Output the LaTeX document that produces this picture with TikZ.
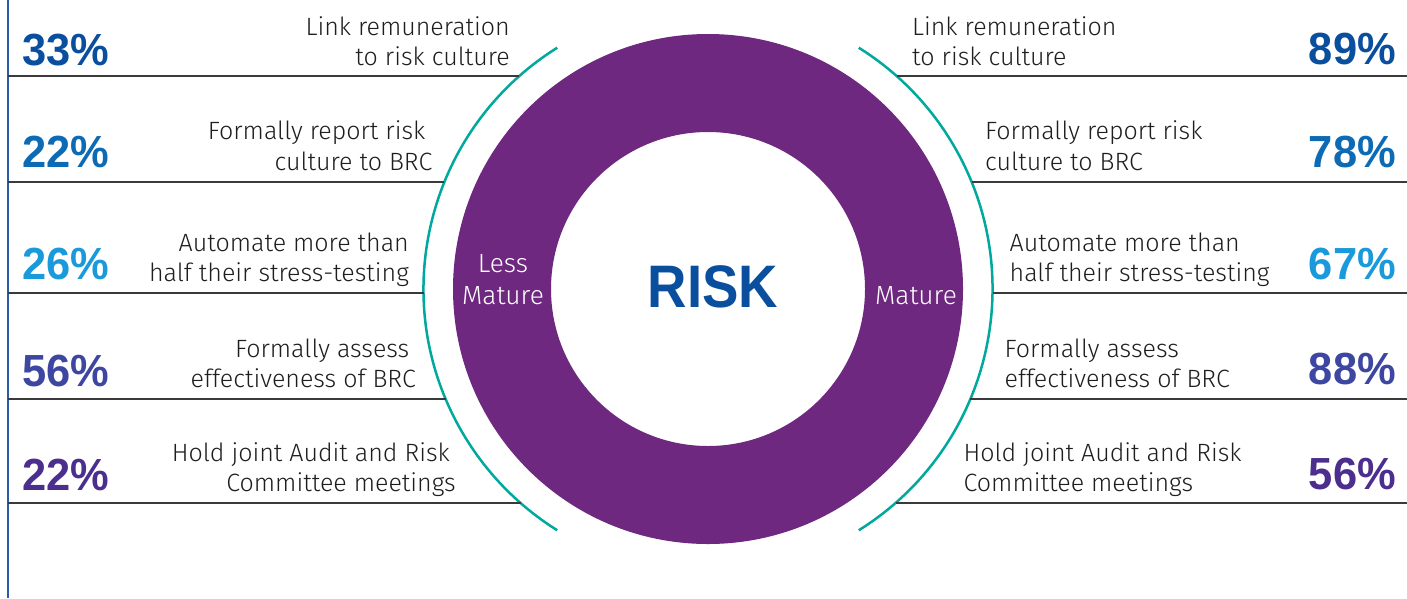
\documentclass[tikz,border=0pt]{standalone}
\usepackage{fontspec}
\setmainfont{Liberation Sans}
\IfFontExistsTF{Fira Sans Light}{%
  \newfontfamily\lblfont{Fira Sans Light}%
  \def\lblsize{\fontsize{25}{29}\selectfont}%
  \def\ringsize{\fontsize{26.3}{30}\selectfont}%
}{%
  \newfontfamily\lblfont[FakeStretch=1.05]{Liberation Sans}%
  \def\lblsize{\fontsize{24}{28}\selectfont}%
  \def\ringsize{\fontsize{24}{28}\selectfont}%
}
\newfontfamily\pctfont[FakeStretch=0.965]{Liberation Sans}
\newfontfamily\riskfont[FakeStretch=0.91]{Liberation Sans}
\definecolor{ringpurple}{HTML}{6F2880}
\definecolor{arcteal}{HTML}{00A99D}
\definecolor{rulegray}{HTML}{3A3A3A}
\definecolor{edgeblue}{HTML}{2A5CA8}
\definecolor{labelgray}{HTML}{1E1E1E}
\definecolor{pctA}{HTML}{0A4F9E}
\definecolor{pctB}{HTML}{0D6AB5}
\definecolor{pctC}{HTML}{1A9ADB}
\definecolor{pctD}{HTML}{3D46A0}
\definecolor{pctE}{HTML}{4B2E8D}
\begin{document}
\begin{tikzpicture}[x=1pt,y=-1pt,
  lbl/.style={inner sep=0pt, text=labelgray, font=\lblfont\lblsize},
  lblL/.style={lbl, anchor=base east},
  lblR/.style={lbl, anchor=base west},
  pct/.style={inner sep=0pt, font=\pctfont\bfseries\fontsize{45}{50}\selectfont},
  pctL/.style={pct, anchor=base west},
  pctR/.style={pct, anchor=base east},
  ringlbl/.style={inner sep=0pt, anchor=base, text=white, font=\lblfont\ringsize},
  rule/.style={draw=rulegray, line width=1.5pt},
  tealarc/.style={draw=arcteal, line width=2.5pt}]
\useasboundingbox (0,0) rectangle (1407,598);
\fill[white] (0,0) rectangle (1407,598);

% left edge
\coordinate (E1) at (8,0);
\coordinate (E2) at (8,598);
\draw[edgeblue, line width=1.5pt] (E1) -- (E2);

% ring
\coordinate (C) at (708,289);
\fill[ringpurple, even odd rule] (C) circle[radius=255pt] (C) circle[radius=157pt];

% teal arcs
\draw[tealarc] (C) ++(122:284.5pt) arc[start angle=122, end angle=238, radius=284.5pt];
\draw[tealarc] (C) ++(-58:284.5pt) arc[start angle=-58, end angle=58, radius=284.5pt];

% left rules
\coordinate (la1) at (8,76);   \coordinate (lb1) at (519.4,76);
\coordinate (la2) at (8,182);  \coordinate (lb2) at (444.4,182);
\coordinate (la3) at (8,293);  \coordinate (lb3) at (423.5,293);
\coordinate (la4) at (8,399);  \coordinate (lb4) at (445.6,399);
\coordinate (la5) at (8,503);  \coordinate (lb5) at (520.5,503);
\foreach \i in {1,...,5} \draw[rule] (la\i) -- (lb\i);

% right rules
\coordinate (ra1) at (896.6,76);  \coordinate (rb1) at (1407,76);
\coordinate (ra2) at (971.6,182); \coordinate (rb2) at (1407,182);
\coordinate (ra3) at (992.5,293); \coordinate (rb3) at (1407,293);
\coordinate (ra4) at (970.4,399); \coordinate (rb4) at (1407,399);
\coordinate (ra5) at (895.5,503); \coordinate (rb5) at (1407,503);
\foreach \i in {1,...,5} \draw[rule] (ra\i) -- (rb\i);

% left labels
\node[lblL] (L1a) at (510,35) {Link remuneration};
\node[lblL] (L1b) at (510,65) {to risk culture};
\node[lblL] (L2a) at (425.5,139) {Formally report risk};
\node[lblL] (L2b) at (432.5,170) {culture to BRC};
\node[lblL] (L3a) at (409,251) {Automate more than};
\node[lblL] (L3b) at (409,281) {half their stress-testing};
\node[lblL] (L4a) at (409.5,357) {Formally assess};
\node[lblL] (L4b) at (416,387) {effectiveness of BRC};
\node[lblL] (L5a) at (450,461) {Hold joint Audit and Risk};
\node[lblL] (L5b) at (456,491) {Committee meetings};

% right labels
\node[lblR] (R1a) at (912,35) {Link remuneration};
\node[lblR] (R1b) at (912,65) {to risk culture};
\node[lblR] (R2a) at (985,139) {Formally report risk};
\node[lblR] (R2b) at (985,170) {culture to BRC};
\node[lblR] (R3a) at (1009.5,251) {Automate more than};
\node[lblR] (R3b) at (1009.5,281) {half their stress-testing};
\node[lblR] (R4a) at (1004.5,357) {Formally assess};
\node[lblR] (R4b) at (1004.5,387) {effectiveness of BRC};
\node[lblR] (R5a) at (963.5,461) {Hold joint Audit and Risk};
\node[lblR] (R5b) at (963.5,491) {Committee meetings};

% left percentages
\node[pctL, text=pctA] (P1) at (22,65) {33\%};
\node[pctL, text=pctB] (P2) at (22,167) {22\%};
\node[pctL, text=pctC] (P3) at (22,279) {26\%};
\node[pctL, text=pctD] (P4) at (22,386) {56\%};
\node[pctL, text=pctE] (P5) at (22,490) {22\%};

% right percentages
\node[pctR, text=pctA] (Q1) at (1396,64) {89\%};
\node[pctR, text=pctB] (Q2) at (1396,167) {78\%};
\node[pctR, text=pctC] (Q3) at (1396,279) {67\%};
\node[pctR, text=pctD] (Q4) at (1396,384) {88\%};
\node[pctR, text=pctE] (Q5) at (1396,489) {56\%};

% ring labels
\node[ringlbl] (less) at (503,272.5) {Less};
\node[ringlbl] (lmature) at (503,304) {Mature};
\node[ringlbl] (rmature) at (916,304) {Mature};

% centre
\node[inner sep=0pt, anchor=base, text=pctA, font=\riskfont\bfseries\fontsize{60}{64}\selectfont] (risk) at (713,307) {RISK};
\end{tikzpicture}
\end{document}
